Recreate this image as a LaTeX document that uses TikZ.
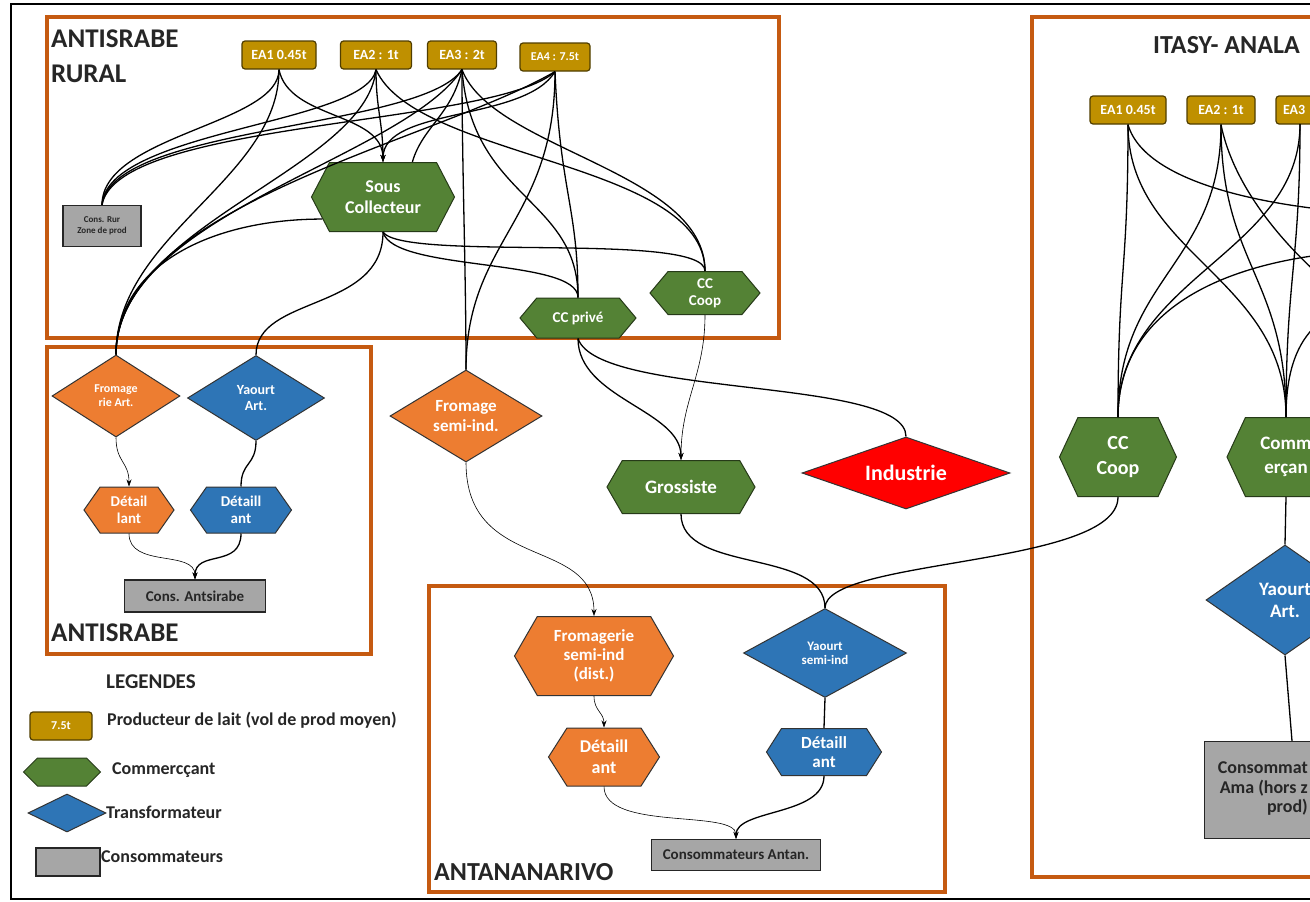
\documentclass[tikz,border=0pt]{standalone}
\usepackage{fontspec}
\setmainfont{Carlito}
\usepackage{tikz}
\usetikzlibrary{shapes, shapes.geometric, shapes.symbols, arrows.meta, positioning, calc}
\definecolor{framebrown}{RGB}{197, 90, 17}
\definecolor{prodgold}{RGB}{191, 144, 0}
\definecolor{prodedge}{RGB}{80, 62, 0}
\definecolor{tradegreen}{RGB}{84, 130, 53}
\definecolor{tradeedge}{RGB}{38, 58, 24}
\definecolor{cheeseorange}{RGB}{237, 125, 49}
\definecolor{yogurtblue}{RGB}{46, 117, 182}
\definecolor{consgray}{RGB}{166, 166, 166}
\definecolor{textdark}{RGB}{38, 38, 38}

\tikzset{
  zone/.style={draw=framebrown, line width=4.5pt},
  zonetitle/.style={font=\bfseries\fontsize{27}{35}\selectfont, text=textdark, align=left, inner sep=0pt},
  producer/.style={draw=prodedge, fill=prodgold, rounded corners=3pt, line width=1.2pt, text=white,
    font=\bfseries\fontsize{14}{16}\selectfont, minimum height=28pt, inner sep=1pt},
  trader/.style={signal, signal to=east and west, signal pointer angle=120, draw=tradeedge, fill=tradegreen,
    line width=1pt, text=white, font=\bfseries\fontsize{18}{21}\selectfont, align=center, inner sep=1pt},
  maker/.style={diamond, draw=black!80, line width=1pt, text=white, font=\bfseries\fontsize{14}{16}\selectfont,
    align=center, inner sep=0pt},
  consumer/.style={rectangle, draw=black!85, fill=consgray, line width=1.2pt, text=textdark,
    font=\bfseries\fontsize{15}{17}\selectfont, align=center, inner sep=2pt},
  flow/.style={line width=1.3pt},
  thinflow/.style={line width=0.6pt},
  arrowed/.style={-{Stealth[length=7pt, width=5pt]}},
  legendtext/.style={anchor=west, font=\bfseries\fontsize{18}{21}\selectfont, text=textdark, inner sep=0pt},
}

\begin{document}
\begin{tikzpicture}[x=1pt, y=-1pt]
  \useasboundingbox (0,0) rectangle (1310,902);
  \clip (0,0) rectangle (1310,902);
  \fill[white] (0,0) rectangle (1310,902);
  \draw[line width=1.5pt] (11,4) rectangle (1340,899);

  % zones
  \draw[zone] (47,17) rectangle (779,338);
  \draw[zone] (47,347) rectangle (371,654);
  \draw[zone] (429,586) rectangle (945,892);
  \draw[zone] (1032,17) rectangle (1380,877);

  \node[zonetitle, anchor=north west] (titlerural) at (51,30) {ANTISRABE\\RURAL};
  \node[zonetitle, anchor=west] (titleants) at (51,633) {ANTISRABE};
  \node[zonetitle, anchor=west, font=\bfseries\fontsize{26}{30}\selectfont] (titleantan) at (434,872) {ANTANANARIVO};
  \node[zonetitle, anchor=west, font=\bfseries\fontsize{26}{30}\selectfont] (titleitasy) at (1153,45) {ITASY- ANALA};

  % producers
  \node[producer, minimum width=74pt] (ea1) at (279,55) {EA1 0.45t};
  \node[producer, minimum width=71pt] (ea2) at (376,55) {EA2 : 1t};
  \node[producer, minimum width=69pt] (ea3) at (462,55) {EA3 : 2t};
  \node[producer, minimum width=70pt, font=\bfseries\fontsize{12}{14}\selectfont] (ea4) at (555,57) {EA4 : 7.5t};
  \node[producer, minimum width=76pt] (iea1) at (1128,110) {EA1 0.45t};
  \node[producer, minimum width=68pt] (iea2) at (1221,110) {EA2 : 1t};
  \node[producer, minimum width=70pt, text width=56pt, align=left] (iea3) at (1311,110) {EA3};

  % traders
  \node[trader, minimum width=143pt, minimum height=69pt, signal pointer angle=125] (sousc) at (383,197) {Sous\\Collecteur};
  \node[trader, minimum width=116pt, minimum height=40pt, signal pointer angle=100,
    font=\bfseries\fontsize{15}{17}\selectfont] (ccprive) at (578,318) {CC privé};
  \node[trader, minimum width=110pt, minimum height=43pt, signal pointer angle=100,
    font=\bfseries\fontsize{15}{17}\selectfont] (cccoop) at (705,293) {CC\\Coop};
  \node[trader, minimum width=148pt, minimum height=53pt, font=\bfseries\fontsize{19}{22}\selectfont] (gross) at (681,487) {Grossiste};
  \node[trader, minimum width=117pt, minimum height=79pt, signal pointer angle=130,
    font=\bfseries\fontsize{20}{25}\selectfont] (icoop) at (1118,457) {CC\\Coop};
  \node[trader, minimum width=118pt, minimum height=79pt, signal pointer angle=130,
    font=\bfseries\fontsize{19}{24}\selectfont] (icomm) at (1286,457) {Comm\\erçan};

  % retailers
  \node[trader, fill=cheeseorange, draw=black!80, minimum width=90pt, minimum height=46pt, signal pointer angle=110,
    font=\bfseries\fontsize{15}{17}\selectfont] (detfrom) at (129,510) {Détail\\lant};
  \node[trader, fill=yogurtblue, draw=black!80, minimum width=101pt, minimum height=46pt, signal pointer angle=110,
    font=\bfseries\fontsize{15}{17}\selectfont] (detyao) at (241,510) {Détaill\\ant};
  \node[trader, fill=cheeseorange, draw=black!80, minimum width=159pt, minimum height=79pt,
    font=\bfseries\fontsize{17}{19}\selectfont] (fromdist) at (594,656) {Fromagerie\\semi-ind\\(dist.)};
  \node[trader, fill=cheeseorange, draw=black!80, minimum width=111pt, minimum height=58pt, signal pointer angle=115,
    font=\bfseries\fontsize{18}{21}\selectfont] (detfromb) at (604,757) {Détaill\\ant};
  \node[trader, fill=yogurtblue, draw=black!80, minimum width=115pt, minimum height=47pt, signal pointer angle=115,
    font=\bfseries\fontsize{17}{19}\selectfont] (detyaob) at (824,752) {Détaill\\ant};

  % processors
  \node[maker, fill=cheeseorange, minimum width=128pt, minimum height=82pt, aspect=1.56,
    font=\bfseries\fontsize{12}{14}\selectfont] (fromart) at (116,396) {Fromage\\rie Art.};
  \node[maker, fill=yogurtblue, minimum width=137pt, minimum height=85pt, aspect=1.6] (yaoart) at (256,398) {Yaourt\\Art.};
  \node[maker, fill=cheeseorange, minimum width=152pt, minimum height=92pt, aspect=1.65,
    font=\bfseries\fontsize{17}{20}\selectfont] (fromsemi) at (466,416) {Fromage\\semi-ind.};
  \node[maker, fill=yogurtblue, minimum width=163pt, minimum height=89pt, aspect=1.83,
    font=\bfseries\fontsize{13}{14}\selectfont] (yaosemi) at (825,653) {Yaourt\\semi-ind};
  \node[maker, fill=red, minimum width=208pt, minimum height=72pt, aspect=2.9,
    font=\bfseries\fontsize{22}{24}\selectfont] (indus) at (906,473) {Industrie};
  \node[maker, fill=yogurtblue, minimum width=158pt, minimum height=110pt, aspect=1.44,
    font=\bfseries\fontsize{19}{22}\selectfont] (iyao) at (1285,600) {Yaourt\\Art.};

  % consumers
  \node[consumer, minimum width=78pt, minimum height=41pt, font=\bfseries\fontsize{9}{11}\selectfont] (consrur) at (102,226) {Cons. Rur\\Zone de prod};
  \node[consumer, minimum width=141pt, minimum height=32pt] (consants) at (195,596) {Cons. Antsirabe};
  \node[consumer, minimum width=169pt, minimum height=31pt] (consantan) at (736,855) {Consommateurs Antan.};
  \node[consumer, minimum width=175pt, minimum height=97pt] (icons) at (1292,790) {};
  \node[anchor=east, align=right, inner sep=0pt, text=textdark, font=\bfseries\fontsize{18}{19.5}\selectfont] (iconstext) at (1308,789) {Consommat\\Ama (hors z\\prod)};

  % rural flows
  \draw[flow] (ea1.south) .. controls +(0,55) and +(0,-70) .. (consrur.north);
  \draw[flow] (ea2.south) .. controls +(-10,55) and +(5,-75) .. (consrur.north);
  \draw[flow] (ea3.south) .. controls +(-40,60) and +(10,-80) .. (consrur.north);
  \draw[flow] (ea4.south) .. controls +(-60,55) and +(15,-85) .. (consrur.north);
  \draw[flow] (ea1.south) .. controls +(0,110) and +(0,-120) .. (fromart.north);
  \draw[flow] (ea2.south) .. controls +(-10,100) and +(0,-130) .. (fromart.north);
  \draw[flow] (ea3.south) .. controls +(-60,90) and +(0,-140) .. (fromart.north);
  \draw[flow] (ea4.south) .. controls +(-120,70) and +(0,-150) .. (fromart.north);
  \draw[flow] (sousc.200) .. controls +(-110,0) and +(0,-90) .. (fromart.north);
  \draw[flow, arrowed] (ea1.south) .. controls +(10,50) and +(0,-50) .. (sousc.north);
  \draw[flow, arrowed] (ea2.south) .. controls +(0,40) and +(0,-40) .. (sousc.north);
  \draw[flow] (ea3.south) .. controls +(-10,45) and +(10,-35) .. (sousc.50);
  \draw[flow, arrowed] (ea4.south) .. controls +(-30,50) and +(0,-55) .. (sousc.north);
  \draw[flow] (ea3.south) .. controls +(10,130) and +(0,-100) .. (ccprive.north);
  \draw[flow] (ea4.south) .. controls +(5,120) and +(0,-90) .. (ccprive.north);
  \draw[flow] (sousc.south) .. controls +(10,40) and +(0,-40) .. (ccprive.north);
  \draw[flow] (ea2.south) .. controls +(40,90) and +(0,-110) .. (cccoop.north);
  \draw[flow] (ea3.south) .. controls +(30,80) and +(0,-100) .. (cccoop.north);
  \draw[flow] (sousc.south) .. controls +(20,30) and +(0,-40) .. (cccoop.north);
  \draw[flow] (ea3.south) .. controls +(0,100) and +(0,-100) .. (fromsemi.north);
  \draw[flow] (ea4.south) .. controls +(0,150) and +(0,-130) .. (fromsemi.north);
  \draw[flow] (sousc.south) .. controls +(0,80) and +(0,-60) .. (yaoart.north);

  % middle flows
  \draw[flow, arrowed] (ccprive.south) .. controls +(0,60) and +(0,-50) .. (gross.north);
  \draw[flow] (ccprive.south) .. controls +(20,60) and +(0,-60) .. (indus.north);
  \draw[thinflow, arrowed] (cccoop.south) .. controls +(0,60) and +(0,-60) .. (gross.north);
  \draw[thinflow, arrowed] (fromsemi.south) .. controls +(0,110) and +(0,-80) .. (fromdist.north);
  \draw[flow] (gross.south) .. controls +(0,60) and +(0,-60) .. (yaosemi.north);
  \draw[flow] (icoop.south) .. controls +(0,70) and +(0,-50) .. (yaosemi.north);

  % antsirabe and antananarivo flows
  \draw[thinflow, arrowed] (fromart.south) .. controls +(0,25) and +(0,-25) .. (detfrom.north);
  \draw[flow] (yaoart.south) .. controls +(0,25) and +(0,-25) .. (detyao.north);
  \draw[thinflow, arrowed] (detfrom.south) .. controls +(0,35) and +(0,-30) .. (consants.north);
  \draw[flow, arrowed] (detyao.south) .. controls +(0,35) and +(0,-30) .. (consants.north);
  \draw[thinflow, arrowed] (fromdist.south) .. controls +(0,15) and +(0,-15) .. (detfromb.north);
  \draw[flow] (yaosemi.south) -- (detyaob.north);
  \draw[thinflow, arrowed] (detfromb.south) .. controls +(0,45) and +(0,-30) .. (consantan.north);
  \draw[flow, arrowed] (detyaob.south) .. controls +(0,40) and +(0,-30) .. (consantan.north);

  % itasy flows
  \coordinate (ioffa) at (1420,215);
  \coordinate (ioffb) at (1420,340);
  \coordinate (ioffc) at (1400,250);
  \coordinate (ioffd) at (1400,300);
  \coordinate (iea3foot) at (1300,124);
  \draw[flow] (iea1.south) .. controls +(0,150) and +(0,-150) .. (icoop.north);
  \draw[flow] (iea1.south) .. controls +(0,130) and +(0,-140) .. (icomm.north);
  \draw[flow] (iea1.south) .. controls +(20,70) and +(-100,0) .. (ioffa);
  \draw[flow] (iea2.south) .. controls +(0,140) and +(0,-140) .. (icoop.north);
  \draw[flow] (iea2.south) .. controls +(0,140) and +(0,-140) .. (icomm.north);
  \draw[flow] (iea2.south) .. controls +(20,100) and +(-60,-20) .. (ioffb);
  \draw[flow] (iea3foot) .. controls +(0,130) and +(0,-140) .. (icoop.north);
  \draw[flow] (iea3foot) .. controls +(0,140) and +(0,-140) .. (icomm.north);
  \draw[flow] (ioffc) .. controls +(-150,0) and +(0,-120) .. (icoop.north);
  \draw[flow] (ioffd) .. controls +(-80,0) and +(0,-80) .. (icomm.north);
  \draw[flow] (icomm.south) -- (iyao.north);
  \draw[flow] (iyao.south) -- (icons.north);

  % legend
  \node[font=\bfseries\fontsize{21}{24}\selectfont, text=textdark, anchor=west, inner sep=0pt] (legtitle) at (106,682) {LEGENDES};
  \node[producer, minimum width=62pt, font=\bfseries\fontsize{12}{14}\selectfont] (lprod) at (61,726) {7.5t};
  \node[trader, minimum width=77pt, minimum height=28pt, signal pointer angle=90] (lcom) at (62,772) {};
  \node[maker, fill=yogurtblue, minimum width=78pt, minimum height=38pt, aspect=2] (ltrans) at (67,813) {};
  \node[consumer, minimum width=64pt, minimum height=28pt] (lcons) at (68,862) {};
  \node[legendtext] (lprodtext) at (107,720) {Producteur de lait (vol de prod moyen)};
  \node[legendtext] (lcomtext) at (112,770) {Commercçant};
  \node[legendtext] (ltranstext) at (106,812) {Transformateur};
  \node[legendtext] (lconstext) at (101,857) {Consommateurs};
\end{tikzpicture}
\end{document}
